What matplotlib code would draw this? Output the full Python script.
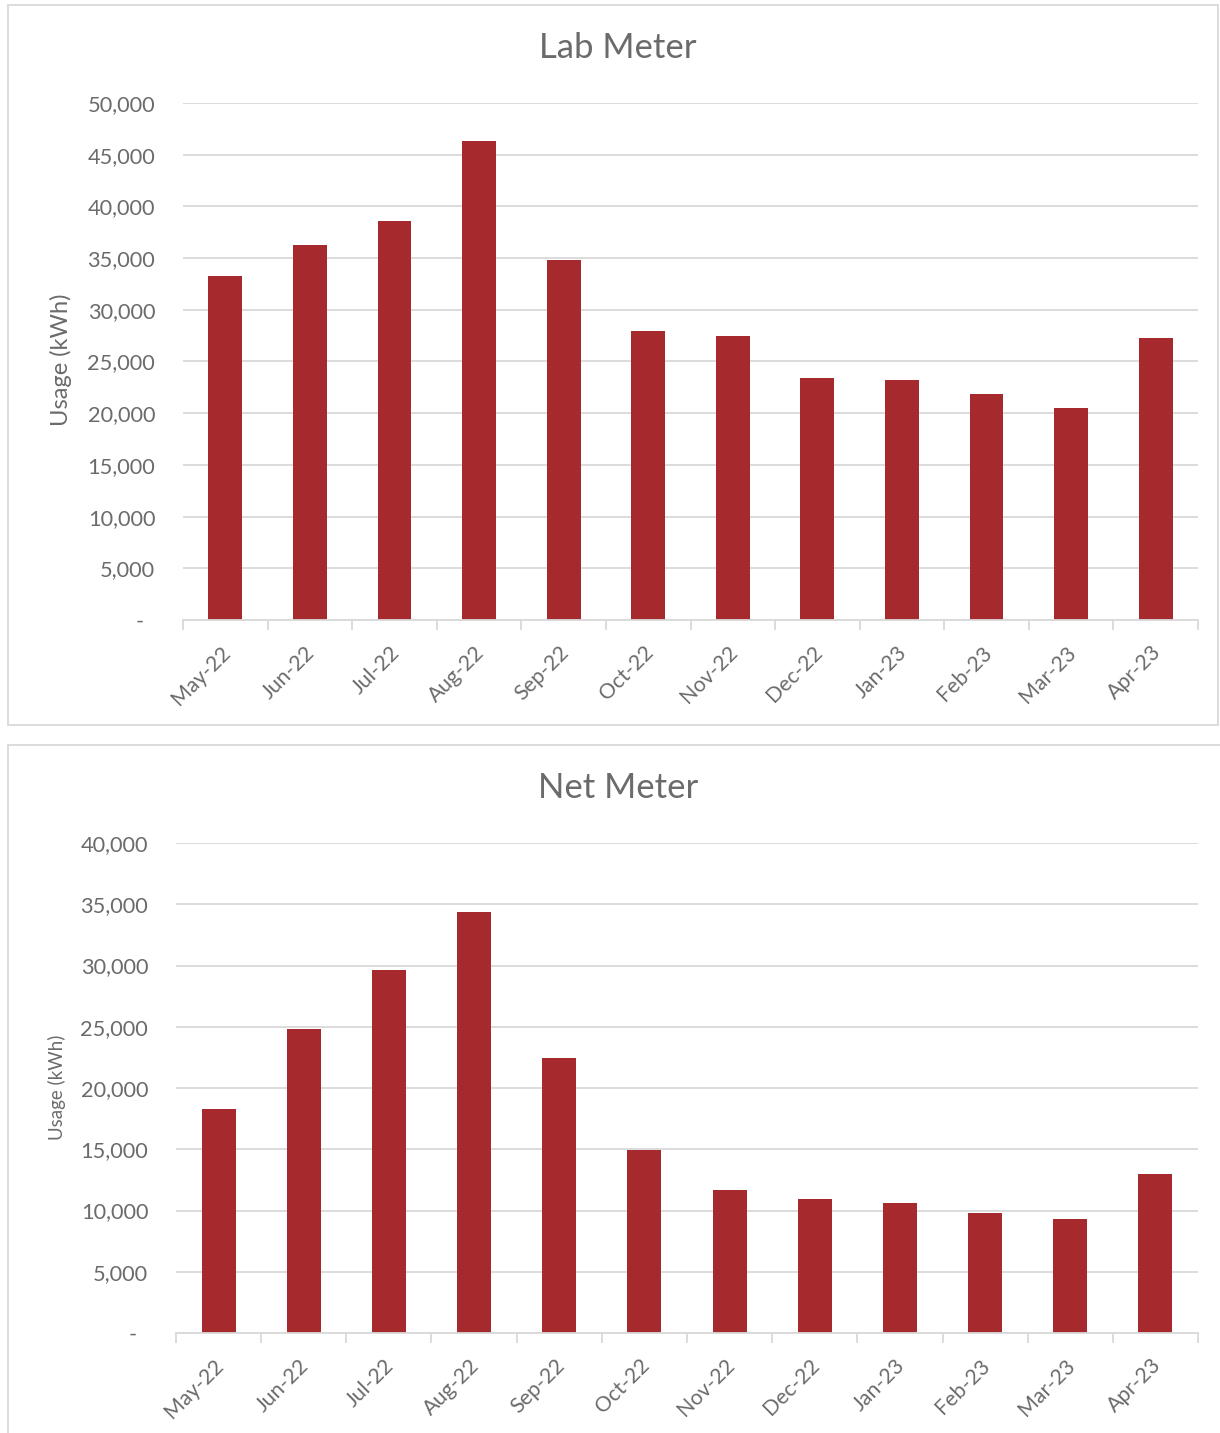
import matplotlib
matplotlib.use("Agg")
import matplotlib.pyplot as plt
from matplotlib.patches import Rectangle
from matplotlib.ticker import FuncFormatter, FixedLocator
from matplotlib.transforms import ScaledTranslation

plt.rcParams['font.family'] = ['Lato', 'DejaVu Sans']

months = ["May-22", "Jun-22", "Jul-22", "Aug-22", "Sep-22", "Oct-22",
          "Nov-22", "Dec-22", "Jan-23", "Feb-23", "Mar-23", "Apr-23"]
lab_usage = [33300, 36300, 38600, 46350, 34800, 27950,
             27500, 23400, 23200, 21900, 20500, 27300]
net_usage = [18300, 24800, 29600, 34400, 22450, 14900,
             11700, 10950, 10600, 9800, 9300, 13000]

BAR = "#A6292D"
TXT = "#6B6B6B"
GRID = "#D9D9D9"

W, H = 1220, 1433
fig = plt.figure(figsize=(W / 100, H / 100), dpi=100)

def px_rect(x0, y0, x1, y1):
    return [x0 / W, 1 - y1 / H, (x1 - x0) / W, (y1 - y0) / H]

# panel borders
for (x0, y0, x1, y1) in [(8, 5, 1218, 725), (8, 745, 1222, 1436)]:
    fig.patches.append(Rectangle((x0 / W, 1 - y1 / H), (x1 - x0) / W, (y1 - y0) / H,
                                 transform=fig.transFigure, fill=False,
                                 edgecolor=GRID, linewidth=1.3, zorder=0))

def fmt(v, pos):
    if abs(v) < 1e-9:
        return "-  "
    return f"{v:,.0f}"

def draw(rect, values, ymax, title, title_y, ylabel, ylabel_x, ylabel_y, ylabel_size, ypad):
    ax = fig.add_axes(px_rect(*rect))
    x = list(range(len(months)))
    ax.bar(x, values, width=0.4, color=BAR, zorder=3)
    ax.set_xlim(-0.5, len(months) - 0.5)
    ax.set_ylim(0, ymax)
    ax.set_yticks(range(0, ymax + 1, 5000))
    ax.yaxis.set_major_formatter(FuncFormatter(fmt))
    ax.grid(axis='y', color=GRID, linewidth=1.3, zorder=0)
    for s in ['top', 'right', 'left']:
        ax.spines[s].set_visible(False)
    ax.spines['bottom'].set_color(GRID)
    ax.spines['bottom'].set_linewidth(1.3)
    ax.spines['bottom'].set_zorder(4)
    ax.tick_params(axis='y', length=0, pad=ypad, labelsize=15.7, labelcolor=TXT)
    ax.set_xticks(x)
    ax.set_xticklabels(months, rotation=45, ha='right', rotation_mode='anchor',
                       fontsize=15.3, color=TXT)
    ax.tick_params(axis='x', which='major', length=0, pad=16)
    ax.xaxis.set_minor_locator(FixedLocator([i - 0.5 for i in range(len(months) + 1)]))
    ax.tick_params(axis='x', which='minor', length=7, width=1.3, color=GRID)
    off = ScaledTranslation(-5 / 100, 0, fig.dpi_scale_trans)
    for lab in ax.get_xticklabels():
        lab.set_transform(lab.get_transform() + off)
    fig.text(618 / W, 1 - title_y / H, title, ha='center', va='center',
             fontsize=25, color=TXT)
    fig.text(ylabel_x / W, 1 - ylabel_y / H, ylabel, ha='center', va='center',
             rotation=90, fontsize=ylabel_size, color=TXT)
    return ax

draw((183, 103, 1198, 620), lab_usage, 50000, "Lab Meter", 48,
     "Usage (kWh)", 61, 360, 17, 20)
draw((176, 843, 1198, 1333), net_usage, 40000, "Net Meter", 788,
     "Usage (kWh)", 57, 1087, 13.5, 20)

fig.savefig("out.png", dpi=100)
